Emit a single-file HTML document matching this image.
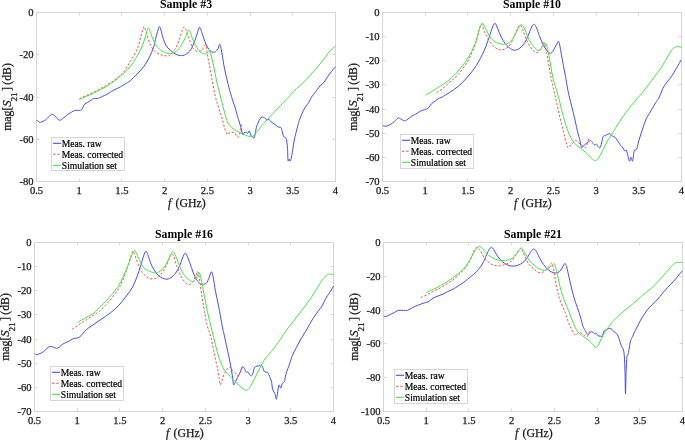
<!DOCTYPE html>
<html><head><meta charset="utf-8"><style>html,body{margin:0;padding:0;background:#fff;}svg{display:block;will-change:transform}</style></head>
<body><svg width="685" height="440" viewBox="0 0 685 440">
<rect width="685" height="440" fill="#fff"/>
<g stroke="#d6d6d6" stroke-width="1" fill="none"><line x1="36.5" y1="181.5" x2="36.5" y2="178.5" /><line x1="36.5" y1="12.5" x2="36.5" y2="15.5" /><line x1="79.5" y1="181.5" x2="79.5" y2="178.5" /><line x1="79.5" y1="12.5" x2="79.5" y2="15.5" /><line x1="121.5" y1="181.5" x2="121.5" y2="178.5" /><line x1="121.5" y1="12.5" x2="121.5" y2="15.5" /><line x1="164.5" y1="181.5" x2="164.5" y2="178.5" /><line x1="164.5" y1="12.5" x2="164.5" y2="15.5" /><line x1="207.5" y1="181.5" x2="207.5" y2="178.5" /><line x1="207.5" y1="12.5" x2="207.5" y2="15.5" /><line x1="250.5" y1="181.5" x2="250.5" y2="178.5" /><line x1="250.5" y1="12.5" x2="250.5" y2="15.5" /><line x1="292.5" y1="181.5" x2="292.5" y2="178.5" /><line x1="292.5" y1="12.5" x2="292.5" y2="15.5" /><line x1="335.5" y1="181.5" x2="335.5" y2="178.5" /><line x1="335.5" y1="12.5" x2="335.5" y2="15.5" /><line x1="36.5" y1="12.5" x2="39.5" y2="12.5" /><line x1="335.5" y1="12.5" x2="332.5" y2="12.5" /><line x1="36.5" y1="54.5" x2="39.5" y2="54.5" /><line x1="335.5" y1="54.5" x2="332.5" y2="54.5" /><line x1="36.5" y1="97.5" x2="39.5" y2="97.5" /><line x1="335.5" y1="97.5" x2="332.5" y2="97.5" /><line x1="36.5" y1="139.5" x2="39.5" y2="139.5" /><line x1="335.5" y1="139.5" x2="332.5" y2="139.5" /><line x1="36.5" y1="181.5" x2="39.5" y2="181.5" /><line x1="335.5" y1="181.5" x2="332.5" y2="181.5" /><rect x="36.5" y="12.5" width="299.0" height="169.0" fill="none"/></g>
<g font-family='"Liberation Serif", serif' font-size="10.6" fill="#1a1a1a" stroke="#1a1a1a" stroke-width="0.25"><text x="36.5" y="194.0" text-anchor="middle">0.5</text><text x="79.2" y="194.0" text-anchor="middle">1</text><text x="121.9" y="194.0" text-anchor="middle">1.5</text><text x="164.6" y="194.0" text-anchor="middle">2</text><text x="207.4" y="194.0" text-anchor="middle">2.5</text><text x="250.1" y="194.0" text-anchor="middle">3</text><text x="292.8" y="194.0" text-anchor="middle">3.5</text><text x="335.5" y="194.0" text-anchor="middle">4</text><text x="33.5" y="16.0" text-anchor="end">0</text><text x="33.5" y="58.2" text-anchor="end">-20</text><text x="33.5" y="100.5" text-anchor="end">-40</text><text x="33.5" y="142.8" text-anchor="end">-60</text><text x="33.5" y="185.0" text-anchor="end">-80</text></g>
<text y="206.8" font-family='"Liberation Serif", serif' font-size="11.8" fill="#1a1a1a" stroke="#1a1a1a" stroke-width="0.25"><tspan x="168.0" font-style="italic">f</tspan><tspan x="175.5">(GHz)</tspan></text>
<text transform="translate(11.1,130.85) rotate(-90)" font-family='"Liberation Serif", serif' font-size="11.8" fill="#1a1a1a" stroke="#1a1a1a" stroke-width="0.25"><tspan x="0" y="0">mag[</tspan><tspan x="24.0" y="0" font-style="italic" font-size="12.8">S</tspan><tspan x="29.3" y="5.8" font-size="9.1">21</tspan><tspan x="39.9" y="0">]</tspan><tspan x="46.07" y="0">(dB)</tspan></text>
<text x="186.0" y="8.2" text-anchor="middle" font-family='"Liberation Serif", serif' font-weight="bold" font-size="11.8" fill="#000">Sample #3</text>
<g stroke="#d6d6d6" stroke-width="1" fill="none"><line x1="382.5" y1="181.5" x2="382.5" y2="178.5" /><line x1="382.5" y1="12.5" x2="382.5" y2="15.5" /><line x1="425.5" y1="181.5" x2="425.5" y2="178.5" /><line x1="425.5" y1="12.5" x2="425.5" y2="15.5" /><line x1="467.5" y1="181.5" x2="467.5" y2="178.5" /><line x1="467.5" y1="12.5" x2="467.5" y2="15.5" /><line x1="510.5" y1="181.5" x2="510.5" y2="178.5" /><line x1="510.5" y1="12.5" x2="510.5" y2="15.5" /><line x1="553.5" y1="181.5" x2="553.5" y2="178.5" /><line x1="553.5" y1="12.5" x2="553.5" y2="15.5" /><line x1="596.5" y1="181.5" x2="596.5" y2="178.5" /><line x1="596.5" y1="12.5" x2="596.5" y2="15.5" /><line x1="638.5" y1="181.5" x2="638.5" y2="178.5" /><line x1="638.5" y1="12.5" x2="638.5" y2="15.5" /><line x1="681.5" y1="181.5" x2="681.5" y2="178.5" /><line x1="681.5" y1="12.5" x2="681.5" y2="15.5" /><line x1="382.5" y1="12.5" x2="385.5" y2="12.5" /><line x1="681.5" y1="12.5" x2="678.5" y2="12.5" /><line x1="382.5" y1="36.5" x2="385.5" y2="36.5" /><line x1="681.5" y1="36.5" x2="678.5" y2="36.5" /><line x1="382.5" y1="60.5" x2="385.5" y2="60.5" /><line x1="681.5" y1="60.5" x2="678.5" y2="60.5" /><line x1="382.5" y1="84.5" x2="385.5" y2="84.5" /><line x1="681.5" y1="84.5" x2="678.5" y2="84.5" /><line x1="382.5" y1="109.5" x2="385.5" y2="109.5" /><line x1="681.5" y1="109.5" x2="678.5" y2="109.5" /><line x1="382.5" y1="133.5" x2="385.5" y2="133.5" /><line x1="681.5" y1="133.5" x2="678.5" y2="133.5" /><line x1="382.5" y1="157.5" x2="385.5" y2="157.5" /><line x1="681.5" y1="157.5" x2="678.5" y2="157.5" /><line x1="382.5" y1="181.5" x2="385.5" y2="181.5" /><line x1="681.5" y1="181.5" x2="678.5" y2="181.5" /><rect x="382.5" y="12.5" width="299.0" height="169.0" fill="none"/></g>
<g font-family='"Liberation Serif", serif' font-size="10.6" fill="#1a1a1a" stroke="#1a1a1a" stroke-width="0.25"><text x="382.5" y="194.0" text-anchor="middle">0.5</text><text x="425.2" y="194.0" text-anchor="middle">1</text><text x="467.9" y="194.0" text-anchor="middle">1.5</text><text x="510.6" y="194.0" text-anchor="middle">2</text><text x="553.4" y="194.0" text-anchor="middle">2.5</text><text x="596.1" y="194.0" text-anchor="middle">3</text><text x="638.8" y="194.0" text-anchor="middle">3.5</text><text x="681.5" y="194.0" text-anchor="middle">4</text><text x="379.5" y="16.0" text-anchor="end">0</text><text x="379.5" y="40.1" text-anchor="end">-10</text><text x="379.5" y="64.3" text-anchor="end">-20</text><text x="379.5" y="88.4" text-anchor="end">-30</text><text x="379.5" y="112.6" text-anchor="end">-40</text><text x="379.5" y="136.7" text-anchor="end">-50</text><text x="379.5" y="160.9" text-anchor="end">-60</text><text x="379.5" y="185.0" text-anchor="end">-70</text></g>
<text y="206.8" font-family='"Liberation Serif", serif' font-size="11.8" fill="#1a1a1a" stroke="#1a1a1a" stroke-width="0.25"><tspan x="514.0" font-style="italic">f</tspan><tspan x="521.5">(GHz)</tspan></text>
<text transform="translate(357.1,130.85) rotate(-90)" font-family='"Liberation Serif", serif' font-size="11.8" fill="#1a1a1a" stroke="#1a1a1a" stroke-width="0.25"><tspan x="0" y="0">mag[</tspan><tspan x="24.0" y="0" font-style="italic" font-size="12.8">S</tspan><tspan x="29.3" y="5.8" font-size="9.1">21</tspan><tspan x="39.9" y="0">]</tspan><tspan x="46.07" y="0">(dB)</tspan></text>
<text x="532.0" y="8.2" text-anchor="middle" font-family='"Liberation Serif", serif' font-weight="bold" font-size="11.8" fill="#000">Sample #10</text>
<g stroke="#d6d6d6" stroke-width="1" fill="none"><line x1="34.5" y1="411.5" x2="34.5" y2="408.5" /><line x1="34.5" y1="242.5" x2="34.5" y2="245.5" /><line x1="77.5" y1="411.5" x2="77.5" y2="408.5" /><line x1="77.5" y1="242.5" x2="77.5" y2="245.5" /><line x1="119.5" y1="411.5" x2="119.5" y2="408.5" /><line x1="119.5" y1="242.5" x2="119.5" y2="245.5" /><line x1="162.5" y1="411.5" x2="162.5" y2="408.5" /><line x1="162.5" y1="242.5" x2="162.5" y2="245.5" /><line x1="205.5" y1="411.5" x2="205.5" y2="408.5" /><line x1="205.5" y1="242.5" x2="205.5" y2="245.5" /><line x1="248.5" y1="411.5" x2="248.5" y2="408.5" /><line x1="248.5" y1="242.5" x2="248.5" y2="245.5" /><line x1="290.5" y1="411.5" x2="290.5" y2="408.5" /><line x1="290.5" y1="242.5" x2="290.5" y2="245.5" /><line x1="333.5" y1="411.5" x2="333.5" y2="408.5" /><line x1="333.5" y1="242.5" x2="333.5" y2="245.5" /><line x1="34.5" y1="242.5" x2="37.5" y2="242.5" /><line x1="333.5" y1="242.5" x2="330.5" y2="242.5" /><line x1="34.5" y1="266.5" x2="37.5" y2="266.5" /><line x1="333.5" y1="266.5" x2="330.5" y2="266.5" /><line x1="34.5" y1="290.5" x2="37.5" y2="290.5" /><line x1="333.5" y1="290.5" x2="330.5" y2="290.5" /><line x1="34.5" y1="314.5" x2="37.5" y2="314.5" /><line x1="333.5" y1="314.5" x2="330.5" y2="314.5" /><line x1="34.5" y1="339.5" x2="37.5" y2="339.5" /><line x1="333.5" y1="339.5" x2="330.5" y2="339.5" /><line x1="34.5" y1="363.5" x2="37.5" y2="363.5" /><line x1="333.5" y1="363.5" x2="330.5" y2="363.5" /><line x1="34.5" y1="387.5" x2="37.5" y2="387.5" /><line x1="333.5" y1="387.5" x2="330.5" y2="387.5" /><line x1="34.5" y1="411.5" x2="37.5" y2="411.5" /><line x1="333.5" y1="411.5" x2="330.5" y2="411.5" /><rect x="34.5" y="242.5" width="299.0" height="169.0" fill="none"/></g>
<g font-family='"Liberation Serif", serif' font-size="10.6" fill="#1a1a1a" stroke="#1a1a1a" stroke-width="0.25"><text x="34.5" y="424.0" text-anchor="middle">0.5</text><text x="77.2" y="424.0" text-anchor="middle">1</text><text x="119.9" y="424.0" text-anchor="middle">1.5</text><text x="162.6" y="424.0" text-anchor="middle">2</text><text x="205.4" y="424.0" text-anchor="middle">2.5</text><text x="248.1" y="424.0" text-anchor="middle">3</text><text x="290.8" y="424.0" text-anchor="middle">3.5</text><text x="333.5" y="424.0" text-anchor="middle">4</text><text x="31.5" y="246.0" text-anchor="end">0</text><text x="31.5" y="270.1" text-anchor="end">-10</text><text x="31.5" y="294.3" text-anchor="end">-20</text><text x="31.5" y="318.4" text-anchor="end">-30</text><text x="31.5" y="342.6" text-anchor="end">-40</text><text x="31.5" y="366.7" text-anchor="end">-50</text><text x="31.5" y="390.9" text-anchor="end">-60</text><text x="31.5" y="415.0" text-anchor="end">-70</text></g>
<text y="436.8" font-family='"Liberation Serif", serif' font-size="11.8" fill="#1a1a1a" stroke="#1a1a1a" stroke-width="0.25"><tspan x="166.0" font-style="italic">f</tspan><tspan x="173.5">(GHz)</tspan></text>
<text transform="translate(9.1,360.85) rotate(-90)" font-family='"Liberation Serif", serif' font-size="11.8" fill="#1a1a1a" stroke="#1a1a1a" stroke-width="0.25"><tspan x="0" y="0">mag[</tspan><tspan x="24.0" y="0" font-style="italic" font-size="12.8">S</tspan><tspan x="29.3" y="5.8" font-size="9.1">21</tspan><tspan x="39.9" y="0">]</tspan><tspan x="46.07" y="0">(dB)</tspan></text>
<text x="184.0" y="238.2" text-anchor="middle" font-family='"Liberation Serif", serif' font-weight="bold" font-size="11.8" fill="#000">Sample #16</text>
<g stroke="#d6d6d6" stroke-width="1" fill="none"><line x1="383.5" y1="411.5" x2="383.5" y2="408.5" /><line x1="383.5" y1="242.5" x2="383.5" y2="245.5" /><line x1="426.5" y1="411.5" x2="426.5" y2="408.5" /><line x1="426.5" y1="242.5" x2="426.5" y2="245.5" /><line x1="468.5" y1="411.5" x2="468.5" y2="408.5" /><line x1="468.5" y1="242.5" x2="468.5" y2="245.5" /><line x1="511.5" y1="411.5" x2="511.5" y2="408.5" /><line x1="511.5" y1="242.5" x2="511.5" y2="245.5" /><line x1="554.5" y1="411.5" x2="554.5" y2="408.5" /><line x1="554.5" y1="242.5" x2="554.5" y2="245.5" /><line x1="597.5" y1="411.5" x2="597.5" y2="408.5" /><line x1="597.5" y1="242.5" x2="597.5" y2="245.5" /><line x1="639.5" y1="411.5" x2="639.5" y2="408.5" /><line x1="639.5" y1="242.5" x2="639.5" y2="245.5" /><line x1="682.5" y1="411.5" x2="682.5" y2="408.5" /><line x1="682.5" y1="242.5" x2="682.5" y2="245.5" /><line x1="383.5" y1="242.5" x2="386.5" y2="242.5" /><line x1="682.5" y1="242.5" x2="679.5" y2="242.5" /><line x1="383.5" y1="276.5" x2="386.5" y2="276.5" /><line x1="682.5" y1="276.5" x2="679.5" y2="276.5" /><line x1="383.5" y1="310.5" x2="386.5" y2="310.5" /><line x1="682.5" y1="310.5" x2="679.5" y2="310.5" /><line x1="383.5" y1="343.5" x2="386.5" y2="343.5" /><line x1="682.5" y1="343.5" x2="679.5" y2="343.5" /><line x1="383.5" y1="377.5" x2="386.5" y2="377.5" /><line x1="682.5" y1="377.5" x2="679.5" y2="377.5" /><line x1="383.5" y1="411.5" x2="386.5" y2="411.5" /><line x1="682.5" y1="411.5" x2="679.5" y2="411.5" /><rect x="383.5" y="242.5" width="299.0" height="169.0" fill="none"/></g>
<g font-family='"Liberation Serif", serif' font-size="10.6" fill="#1a1a1a" stroke="#1a1a1a" stroke-width="0.25"><text x="383.5" y="424.0" text-anchor="middle">0.5</text><text x="426.2" y="424.0" text-anchor="middle">1</text><text x="468.9" y="424.0" text-anchor="middle">1.5</text><text x="511.6" y="424.0" text-anchor="middle">2</text><text x="554.4" y="424.0" text-anchor="middle">2.5</text><text x="597.1" y="424.0" text-anchor="middle">3</text><text x="639.8" y="424.0" text-anchor="middle">3.5</text><text x="682.5" y="424.0" text-anchor="middle">4</text><text x="380.5" y="246.0" text-anchor="end">0</text><text x="380.5" y="279.8" text-anchor="end">-20</text><text x="380.5" y="313.6" text-anchor="end">-40</text><text x="380.5" y="347.4" text-anchor="end">-60</text><text x="380.5" y="381.2" text-anchor="end">-80</text><text x="380.5" y="415.0" text-anchor="end">-100</text></g>
<text y="436.8" font-family='"Liberation Serif", serif' font-size="11.8" fill="#1a1a1a" stroke="#1a1a1a" stroke-width="0.25"><tspan x="515.0" font-style="italic">f</tspan><tspan x="522.5">(GHz)</tspan></text>
<text transform="translate(358.1,360.85) rotate(-90)" font-family='"Liberation Serif", serif' font-size="11.8" fill="#1a1a1a" stroke="#1a1a1a" stroke-width="0.25"><tspan x="0" y="0">mag[</tspan><tspan x="24.0" y="0" font-style="italic" font-size="12.8">S</tspan><tspan x="29.3" y="5.8" font-size="9.1">21</tspan><tspan x="39.9" y="0">]</tspan><tspan x="46.07" y="0">(dB)</tspan></text>
<text x="533.0" y="238.2" text-anchor="middle" font-family='"Liberation Serif", serif' font-weight="bold" font-size="11.8" fill="#000">Sample #21</text>
<path d="M36.40,120.50C36.60,120.53 37.07,120.40 37.60,120.70C38.13,121.00 38.93,122.10 39.60,122.30C40.27,122.50 40.80,122.17 41.60,121.90C42.40,121.63 43.60,121.17 44.40,120.70C45.20,120.23 45.58,119.83 46.40,119.10C47.22,118.37 48.42,117.10 49.30,116.30C50.18,115.50 50.83,114.43 51.70,114.30C52.57,114.17 53.63,114.83 54.50,115.50C55.37,116.17 56.03,117.50 56.90,118.30C57.77,119.10 58.77,120.23 59.70,120.30C60.63,120.37 61.63,119.28 62.50,118.70C63.37,118.12 64.03,117.52 64.90,116.80C65.77,116.08 66.63,115.15 67.70,114.40C68.77,113.65 70.15,112.97 71.30,112.30C72.45,111.63 73.52,110.72 74.60,110.40C75.68,110.08 76.67,110.48 77.80,110.40C78.93,110.32 80.47,110.60 81.40,109.90C82.33,109.20 82.80,107.23 83.40,106.20C84.00,105.17 84.33,104.30 85.00,103.70C85.67,103.10 86.40,103.18 87.40,102.60C88.40,102.02 90.03,100.83 91.00,100.20C91.97,99.57 91.93,99.13 93.20,98.80C94.47,98.47 97.08,98.60 98.60,98.20C100.12,97.80 100.93,97.02 102.30,96.40C103.67,95.78 105.28,95.33 106.80,94.50C108.32,93.67 109.88,92.30 111.40,91.40C112.92,90.50 114.38,89.87 115.90,89.10C117.42,88.33 118.98,87.63 120.50,86.80C122.02,85.97 123.38,85.12 125.00,84.10C126.62,83.08 128.15,82.42 130.20,80.70C132.25,78.98 134.98,76.23 137.30,73.80C139.62,71.37 142.12,68.80 144.10,66.10C146.08,63.40 147.63,60.72 149.20,57.60C150.77,54.48 152.37,50.80 153.50,47.40C154.63,44.00 155.25,40.10 156.00,37.20C156.75,34.30 157.43,31.77 158.00,30.00C158.57,28.23 158.90,26.60 159.40,26.60C159.90,26.60 160.43,28.23 161.00,30.00C161.57,31.77 161.93,34.58 162.80,37.20C163.67,39.82 164.98,43.58 166.20,45.70C167.42,47.82 168.60,48.53 170.10,49.90C171.60,51.27 173.50,52.95 175.20,53.90C176.90,54.85 178.58,55.50 180.30,55.60C182.02,55.70 183.78,55.45 185.50,54.50C187.22,53.55 189.05,52.22 190.60,49.90C192.15,47.58 193.67,43.43 194.80,40.60C195.93,37.77 196.60,35.12 197.40,32.90C198.20,30.68 198.80,27.17 199.60,27.30C200.40,27.43 201.15,30.92 202.20,33.70C203.25,36.48 204.57,41.15 205.90,44.00C207.23,46.85 208.78,49.43 210.20,50.80C211.62,52.17 213.13,52.48 214.40,52.20C215.67,51.92 216.88,50.42 217.80,49.10C218.72,47.78 219.18,43.45 219.90,44.30C220.62,45.15 221.30,50.00 222.10,54.20C222.90,58.40 223.57,63.98 224.70,69.50C225.83,75.02 227.63,82.35 228.90,87.30C230.17,92.25 231.17,95.52 232.30,99.20C233.43,102.88 234.83,106.52 235.70,109.40C236.57,112.28 236.90,114.42 237.50,116.50C238.10,118.58 238.73,120.07 239.30,121.90C239.87,123.73 240.43,125.77 240.90,127.50C241.37,129.23 241.77,131.05 242.10,132.30C242.43,133.55 242.57,134.93 242.90,135.00C243.23,135.07 243.57,133.15 244.10,132.70C244.63,132.25 245.50,132.18 246.10,132.30C246.70,132.42 247.18,133.65 247.70,133.40C248.22,133.15 248.75,130.73 249.20,130.80C249.65,130.87 250.07,132.90 250.40,133.80C250.73,134.70 250.87,135.80 251.20,136.20C251.53,136.60 251.93,135.87 252.40,136.20C252.87,136.53 253.53,138.60 254.00,138.20C254.47,137.80 254.87,135.32 255.20,133.80C255.53,132.28 255.73,130.42 256.00,129.10C256.27,127.78 256.47,126.90 256.80,125.90C257.13,124.90 257.47,124.30 258.00,123.10C258.53,121.90 259.27,119.68 260.00,118.70C260.73,117.72 261.62,117.33 262.40,117.20C263.18,117.07 263.92,117.45 264.70,117.90C265.48,118.35 266.37,119.63 267.10,119.90C267.83,120.17 268.43,119.17 269.10,119.50C269.77,119.83 270.22,121.15 271.10,121.90C271.98,122.65 273.22,123.13 274.40,124.00C275.58,124.87 277.12,126.52 278.20,127.10C279.28,127.68 280.22,126.72 280.90,127.50C281.58,128.28 281.85,130.28 282.30,131.80C282.75,133.32 283.15,135.68 283.60,136.60C284.05,137.52 284.53,136.85 285.00,137.30C285.47,137.75 285.98,137.48 286.40,139.30C286.82,141.12 287.23,144.67 287.50,148.20C287.77,151.73 287.73,158.68 288.00,160.50C288.27,162.32 288.73,158.98 289.10,159.10C289.47,159.22 289.78,161.65 290.20,161.20C290.62,160.75 291.15,158.57 291.60,156.40C292.05,154.23 292.45,150.93 292.90,148.20C293.35,145.47 293.80,142.50 294.30,140.00C294.80,137.50 295.28,135.70 295.90,133.20C296.52,130.70 297.43,127.17 298.00,125.00C298.57,122.83 298.62,122.13 299.30,120.20C299.98,118.27 301.15,115.52 302.10,113.40C303.05,111.28 303.89,109.32 305.00,107.50C306.11,105.68 307.71,104.17 308.75,102.50C309.79,100.83 310.46,98.83 311.25,97.50C312.04,96.17 312.62,95.65 313.50,94.50C314.38,93.35 315.32,92.17 316.50,90.60C317.68,89.03 319.35,86.47 320.60,85.10C321.85,83.73 322.87,83.77 324.00,82.40C325.13,81.03 326.15,78.72 327.40,76.90C328.65,75.08 330.15,73.20 331.50,71.50C332.85,69.80 334.83,67.50 335.50,66.70" fill="none" stroke="#4a4aee" stroke-width="1" stroke-linejoin="round"/>
<path d="M79.50,98.80C80.27,98.40 82.27,97.27 84.10,96.40C85.93,95.53 88.23,94.62 90.50,93.60C92.77,92.58 95.43,91.47 97.70,90.30C99.97,89.13 101.82,87.97 104.10,86.60C106.38,85.23 108.98,83.77 111.40,82.10C113.82,80.43 116.48,78.38 118.60,76.60C120.72,74.82 122.12,74.00 124.10,71.40C126.08,68.80 128.30,64.72 130.50,61.00C132.70,57.28 135.60,53.07 137.30,49.10C139.00,45.13 139.72,40.62 140.70,37.20C141.68,33.78 142.58,30.32 143.20,28.60C143.82,26.88 143.83,26.05 144.40,26.90C144.97,27.75 145.67,30.85 146.60,33.70C147.53,36.55 148.72,41.15 150.00,44.00C151.28,46.85 152.73,49.10 154.30,50.80C155.87,52.50 157.70,53.40 159.40,54.20C161.10,55.00 162.73,55.43 164.50,55.60C166.27,55.77 168.07,56.57 170.00,55.20C171.93,53.83 174.52,50.12 176.10,47.40C177.68,44.68 178.52,41.60 179.50,38.90C180.48,36.20 181.23,33.20 182.00,31.20C182.77,29.20 183.30,26.77 184.10,26.90C184.90,27.03 185.87,29.72 186.80,32.00C187.73,34.28 188.65,37.90 189.70,40.60C190.75,43.30 191.82,46.37 193.10,48.20C194.38,50.03 196.12,51.17 197.40,51.60C198.68,52.03 199.82,51.37 200.80,50.80C201.78,50.23 202.50,49.20 203.30,48.20C204.10,47.20 204.93,43.80 205.60,44.80C206.27,45.80 206.68,50.93 207.30,54.20C207.92,57.47 208.55,60.35 209.30,64.40C210.05,68.45 210.82,73.27 211.80,78.50C212.78,83.73 214.07,90.93 215.20,95.80C216.33,100.67 217.47,104.00 218.60,107.70C219.73,111.40 221.00,114.58 222.00,118.00C223.00,121.42 223.83,125.68 224.60,128.20C225.37,130.72 226.07,132.03 226.60,133.10C227.13,134.17 227.27,134.73 227.80,134.60C228.33,134.47 228.93,132.68 229.80,132.30C230.67,131.92 232.15,132.17 233.00,132.30C233.85,132.43 234.32,132.45 234.90,133.10C235.48,133.75 235.90,135.55 236.50,136.20C237.10,136.85 238.03,137.13 238.50,137.00C238.97,136.87 238.97,136.32 239.30,135.40C239.63,134.48 240.23,132.75 240.50,131.50C240.77,130.25 240.70,129.10 240.90,127.90C241.10,126.70 241.43,125.10 241.70,124.30C241.97,123.50 242.37,123.30 242.50,123.10" fill="none" stroke="#f05050" stroke-width="1" stroke-linejoin="round" stroke-dasharray="2.2,1.8"/>
<path d="M79.30,99.50C80.10,99.13 82.40,98.05 84.10,97.30C85.80,96.55 87.68,95.83 89.50,95.00C91.32,94.17 93.17,93.22 95.00,92.30C96.83,91.38 98.68,90.42 100.50,89.50C102.32,88.58 104.08,87.85 105.90,86.80C107.72,85.75 109.73,84.33 111.40,83.20C113.07,82.07 114.38,81.22 115.90,80.00C117.42,78.78 118.98,77.18 120.50,75.90C122.02,74.62 123.33,73.93 125.00,72.30C126.67,70.67 128.45,68.83 130.50,66.10C132.55,63.37 135.32,59.30 137.30,55.90C139.28,52.50 140.98,49.10 142.40,45.70C143.82,42.30 144.82,38.48 145.80,35.50C146.78,32.52 147.45,28.10 148.30,27.80C149.15,27.50 149.90,31.28 150.90,33.70C151.90,36.12 152.88,39.73 154.30,42.30C155.72,44.87 157.70,47.45 159.40,49.10C161.10,50.75 162.73,51.45 164.50,52.20C166.27,52.95 167.93,53.83 170.00,53.60C172.07,53.37 174.90,52.40 176.90,50.80C178.90,49.20 180.57,46.27 182.00,44.00C183.43,41.73 184.35,39.53 185.50,37.20C186.65,34.87 187.83,30.00 188.90,30.00C189.97,30.00 190.77,34.58 191.90,37.20C193.03,39.82 194.37,43.30 195.70,45.70C197.03,48.10 198.48,50.23 199.90,51.60C201.32,52.97 202.92,53.70 204.20,53.90C205.48,54.10 206.68,53.32 207.60,52.80C208.52,52.28 208.98,49.85 209.70,50.80C210.42,51.75 211.12,55.30 211.90,58.50C212.68,61.70 213.55,65.92 214.40,70.00C215.25,74.08 216.30,79.83 217.00,83.00C217.70,86.17 217.77,85.73 218.60,89.00C219.43,92.27 220.90,98.30 222.00,102.60C223.10,106.90 224.30,111.58 225.20,114.80C226.10,118.02 226.63,120.12 227.40,121.90C228.17,123.68 228.87,124.37 229.80,125.50C230.73,126.63 231.82,127.77 233.00,128.70C234.18,129.63 235.58,130.37 236.90,131.10C238.22,131.83 239.43,132.40 240.90,133.10C242.37,133.80 244.25,134.72 245.70,135.30C247.15,135.88 248.42,136.45 249.60,136.60C250.78,136.75 251.87,136.67 252.80,136.20C253.73,135.73 253.67,135.58 255.20,133.80C256.73,132.02 259.53,128.37 262.00,125.50C264.47,122.63 266.40,120.47 270.00,116.60C273.60,112.73 280.27,105.82 283.60,102.30C286.93,98.78 287.85,97.80 290.00,95.50C292.15,93.20 294.37,90.57 296.50,88.50C298.63,86.43 300.62,85.22 302.80,83.10C304.98,80.98 307.32,78.30 309.60,75.80C311.88,73.30 314.22,70.75 316.50,68.10C318.78,65.45 321.27,62.52 323.30,59.90C325.33,57.28 327.12,54.33 328.70,52.40C330.28,50.47 331.67,49.33 332.80,48.30C333.93,47.27 335.05,46.55 335.50,46.20" fill="none" stroke="#44e644" stroke-width="1" stroke-linejoin="round"/>
<path d="M382.80,125.70C383.35,125.78 384.87,126.38 386.10,126.20C387.33,126.02 388.83,125.37 390.20,124.60C391.57,123.83 392.98,122.70 394.30,121.60C395.62,120.50 396.97,118.42 398.10,118.00C399.23,117.58 400.03,118.63 401.10,119.10C402.17,119.57 403.37,120.80 404.50,120.80C405.63,120.80 406.77,119.83 407.90,119.10C409.03,118.37 410.05,117.20 411.30,116.40C412.55,115.60 413.80,115.22 415.40,114.30C417.00,113.38 419.42,111.65 420.90,110.90C422.38,110.15 423.05,110.30 424.30,109.80C425.55,109.30 427.15,108.97 428.40,107.90C429.65,106.83 430.67,104.53 431.80,103.40C432.93,102.27 434.07,101.93 435.20,101.10C436.33,100.27 437.47,99.07 438.60,98.40C439.73,97.73 440.25,98.05 442.00,97.10C443.75,96.15 446.40,94.48 449.10,92.70C451.80,90.92 455.17,88.97 458.20,86.40C461.23,83.83 464.27,80.78 467.30,77.30C470.33,73.82 473.68,69.75 476.40,65.50C479.12,61.25 481.63,56.05 483.60,51.80C485.57,47.55 486.83,43.78 488.20,40.00C489.57,36.22 490.68,31.88 491.80,29.10C492.92,26.32 493.92,23.38 494.90,23.30C495.88,23.22 496.67,26.35 497.70,28.60C498.73,30.85 499.85,34.30 501.10,36.80C502.35,39.30 503.83,41.78 505.20,43.60C506.57,45.42 507.82,46.60 509.30,47.70C510.78,48.80 512.50,50.02 514.10,50.20C515.70,50.38 517.42,49.67 518.90,48.80C520.38,47.93 521.75,46.53 523.00,45.00C524.25,43.47 525.27,41.87 526.40,39.60C527.53,37.33 528.85,33.68 529.80,31.40C530.75,29.12 531.35,27.08 532.10,25.90C532.85,24.72 533.55,23.95 534.30,24.30C535.05,24.65 535.77,26.13 536.60,28.00C537.43,29.87 538.28,32.90 539.30,35.50C540.32,38.10 541.55,41.22 542.70,43.60C543.85,45.98 545.02,48.18 546.20,49.80C547.38,51.42 548.75,52.97 549.80,53.30C550.85,53.63 551.60,52.83 552.50,51.80C553.40,50.77 554.40,48.57 555.20,47.10C556.00,45.63 556.77,43.98 557.30,43.00C557.83,42.02 558.00,40.87 558.40,41.20C558.80,41.53 559.20,42.77 559.70,45.00C560.20,47.23 560.78,51.18 561.40,54.60C562.02,58.02 562.72,61.87 563.40,65.50C564.08,69.13 564.82,72.65 565.50,76.40C566.18,80.15 566.90,84.75 567.50,88.00C568.10,91.25 568.38,92.77 569.10,95.90C569.82,99.03 570.90,103.17 571.80,106.80C572.70,110.43 573.58,113.75 574.50,117.70C575.42,121.65 576.47,127.02 577.30,130.50C578.13,133.98 578.83,135.88 579.50,138.60C580.17,141.32 580.77,145.43 581.30,146.80C581.83,148.17 582.00,147.25 582.70,146.80C583.40,146.35 584.58,144.85 585.50,144.10C586.42,143.35 587.38,142.90 588.20,142.30C589.02,141.70 589.65,140.42 590.40,140.50C591.15,140.58 592.02,142.05 592.70,142.80C593.38,143.55 593.88,144.78 594.50,145.00C595.12,145.22 595.78,143.80 596.40,144.10C597.02,144.40 597.60,146.20 598.20,146.80C598.80,147.40 599.43,148.33 600.00,147.70C600.57,147.07 601.07,144.85 601.60,143.00C602.13,141.15 602.40,137.93 603.20,136.60C604.00,135.27 605.35,135.48 606.40,135.00C607.45,134.52 608.58,133.57 609.50,133.70C610.42,133.83 610.97,135.18 611.90,135.80C612.83,136.42 614.17,136.60 615.10,137.40C616.03,138.20 616.70,139.42 617.50,140.60C618.30,141.78 619.10,143.45 619.90,144.50C620.70,145.55 621.50,145.83 622.30,146.90C623.10,147.97 624.05,150.37 624.70,150.90C625.35,151.43 625.68,149.43 626.20,150.10C626.72,150.77 627.27,153.05 627.80,154.90C628.33,156.75 628.87,160.80 629.40,161.20C629.93,161.60 630.47,157.30 631.00,157.30C631.53,157.30 632.07,162.27 632.60,161.20C633.13,160.13 633.53,152.88 634.20,150.90C634.87,148.92 635.93,150.62 636.60,149.30C637.27,147.98 637.53,145.38 638.20,143.00C638.87,140.62 639.80,137.53 640.60,135.00C641.40,132.47 642.08,130.45 643.00,127.80C643.92,125.15 645.05,121.48 646.10,119.10C647.15,116.72 648.23,115.32 649.30,113.50C650.37,111.68 651.43,110.03 652.50,108.20C653.57,106.37 654.65,104.17 655.70,102.50C656.75,100.83 657.62,100.52 658.80,98.20C659.98,95.88 661.62,91.05 662.80,88.60C663.98,86.15 664.70,85.20 665.90,83.50C667.10,81.80 668.63,80.27 670.00,78.40C671.37,76.53 672.73,74.52 674.10,72.30C675.47,70.08 677.02,67.15 678.20,65.10C679.38,63.05 680.70,60.85 681.20,60.00" fill="none" stroke="#4a4aee" stroke-width="1" stroke-linejoin="round"/>
<path d="M436.60,92.50C437.50,91.93 439.92,90.73 442.00,89.10C444.08,87.47 446.40,85.13 449.10,82.70C451.80,80.27 455.17,77.98 458.20,74.50C461.23,71.02 464.88,65.73 467.30,61.80C469.72,57.87 471.18,54.38 472.70,50.90C474.22,47.42 475.33,44.38 476.40,40.90C477.47,37.42 478.25,32.82 479.10,30.00C479.95,27.18 480.60,23.70 481.50,24.00C482.40,24.30 483.38,29.28 484.50,31.80C485.62,34.32 486.83,36.82 488.20,39.10C489.57,41.38 491.12,43.83 492.70,45.50C494.28,47.17 496.18,48.38 497.70,49.10C499.22,49.82 500.43,49.92 501.80,49.80C503.17,49.68 504.53,49.20 505.90,48.40C507.27,47.60 508.75,46.70 510.00,45.00C511.25,43.30 512.27,40.70 513.40,38.20C514.53,35.70 515.77,32.17 516.80,30.00C517.83,27.83 518.68,25.53 519.60,25.20C520.52,24.87 521.52,26.52 522.30,28.00C523.08,29.48 523.40,31.72 524.30,34.10C525.20,36.48 526.45,39.80 527.70,42.30C528.95,44.80 530.43,47.40 531.80,49.10C533.17,50.80 534.75,52.05 535.90,52.50C537.05,52.95 537.67,52.82 538.70,51.80C539.73,50.78 541.20,47.98 542.10,46.40C543.00,44.82 543.42,41.62 544.10,42.30C544.78,42.98 545.67,48.22 546.20,50.50C546.73,52.78 546.82,53.28 547.30,56.00C547.78,58.72 548.47,63.18 549.10,66.80C549.73,70.42 550.40,74.17 551.10,77.70C551.80,81.23 552.42,84.05 553.30,88.00C554.18,91.95 555.28,96.45 556.40,101.40C557.52,106.35 558.80,112.55 560.00,117.70C561.20,122.85 562.53,128.05 563.60,132.30C564.67,136.55 565.63,140.63 566.40,143.20C567.17,145.77 567.30,147.55 568.20,147.70C569.10,147.85 570.58,145.30 571.80,144.10C573.02,142.90 574.28,140.65 575.50,140.50C576.72,140.35 577.90,142.30 579.10,143.20C580.30,144.10 581.63,145.15 582.70,145.90C583.77,146.65 584.73,148.15 585.50,147.70C586.27,147.25 586.70,144.87 587.30,143.20C587.90,141.53 588.80,138.62 589.10,137.70" fill="none" stroke="#f05050" stroke-width="1" stroke-linejoin="round" stroke-dasharray="2.2,1.8"/>
<path d="M425.40,95.20C426.35,94.63 429.23,92.93 431.10,91.80C432.97,90.67 434.78,89.53 436.60,88.40C438.42,87.27 439.92,86.40 442.00,85.00C444.08,83.60 446.40,82.35 449.10,80.00C451.80,77.65 455.17,74.38 458.20,70.90C461.23,67.42 464.88,62.73 467.30,59.10C469.72,55.47 471.18,52.28 472.70,49.10C474.22,45.92 475.33,43.18 476.40,40.00C477.47,36.82 478.13,32.78 479.10,30.00C480.07,27.22 481.13,23.60 482.20,23.30C483.27,23.00 484.35,26.17 485.50,28.20C486.65,30.23 487.75,33.38 489.10,35.50C490.45,37.62 491.93,39.55 493.60,40.90C495.27,42.25 497.28,43.03 499.10,43.60C500.92,44.17 502.92,44.40 504.50,44.30C506.08,44.20 507.23,43.90 508.60,43.00C509.97,42.10 511.45,40.62 512.70,38.90C513.95,37.18 515.07,34.63 516.10,32.70C517.13,30.77 517.98,28.67 518.90,27.30C519.82,25.93 520.70,24.38 521.60,24.50C522.50,24.62 523.28,25.95 524.30,28.00C525.32,30.05 526.45,34.08 527.70,36.80C528.95,39.52 530.43,42.25 531.80,44.30C533.17,46.35 534.65,48.07 535.90,49.10C537.15,50.13 538.17,50.95 539.30,50.50C540.43,50.05 541.67,47.65 542.70,46.40C543.73,45.15 544.68,42.55 545.50,43.00C546.32,43.45 546.90,46.27 547.60,49.10C548.30,51.93 549.00,56.13 549.70,60.00C550.40,63.87 551.10,68.67 551.80,72.30C552.50,75.93 553.15,78.93 553.90,81.80C554.65,84.67 555.43,86.55 556.30,89.50C557.17,92.45 558.03,95.40 559.10,99.50C560.17,103.60 561.48,109.55 562.70,114.10C563.92,118.65 565.18,123.17 566.40,126.80C567.62,130.43 568.65,133.17 570.00,135.90C571.35,138.63 572.83,141.23 574.50,143.20C576.17,145.17 578.17,146.18 580.00,147.70C581.83,149.22 583.83,150.78 585.50,152.30C587.17,153.82 588.50,155.43 590.00,156.80C591.50,158.17 593.28,160.05 594.50,160.50C595.72,160.95 596.23,160.57 597.30,159.50C598.37,158.43 599.70,156.22 600.90,154.10C602.10,151.98 603.28,149.23 604.50,146.80C605.72,144.37 606.83,141.87 608.20,139.50C609.57,137.13 610.88,135.47 612.70,132.60C614.52,129.73 616.72,125.88 619.10,122.30C621.48,118.72 624.22,114.82 627.00,111.10C629.78,107.38 633.40,102.90 635.80,100.00C638.20,97.10 638.77,96.95 641.40,93.70C644.03,90.45 648.37,84.75 651.60,80.50C654.83,76.25 658.25,71.95 660.80,68.20C663.35,64.45 665.20,60.90 666.90,58.00C668.60,55.10 669.63,52.62 671.00,50.80C672.37,48.98 673.90,47.78 675.10,47.10C676.30,46.42 677.18,46.67 678.20,46.70C679.22,46.73 680.70,47.20 681.20,47.30" fill="none" stroke="#44e644" stroke-width="1" stroke-linejoin="round"/>
<path d="M34.80,353.90C35.12,354.02 35.82,354.67 36.70,354.60C37.58,354.53 38.97,354.00 40.10,353.50C41.23,353.00 42.35,352.45 43.50,351.60C44.65,350.75 45.90,349.27 47.00,348.40C48.10,347.53 49.08,346.62 50.10,346.40C51.12,346.18 52.03,346.77 53.10,347.10C54.17,347.43 55.48,348.40 56.50,348.40C57.52,348.40 58.07,347.88 59.20,347.10C60.33,346.32 61.82,344.62 63.30,343.70C64.78,342.78 66.38,342.47 68.10,341.60C69.82,340.73 72.00,339.12 73.60,338.50C75.20,337.88 76.45,338.37 77.70,337.90C78.95,337.43 79.97,336.78 81.10,335.70C82.23,334.62 83.25,332.68 84.50,331.40C85.75,330.12 87.05,329.18 88.60,328.00C90.15,326.82 91.75,325.72 93.80,324.30C95.85,322.88 98.20,321.35 100.90,319.50C103.60,317.65 106.97,315.62 110.00,313.20C113.03,310.78 116.37,307.88 119.10,305.00C121.83,302.12 124.13,298.93 126.40,295.90C128.67,292.87 130.88,290.13 132.70,286.80C134.52,283.47 135.93,279.53 137.30,275.90C138.67,272.27 139.85,268.33 140.90,265.00C141.95,261.67 142.78,258.20 143.60,255.90C144.42,253.60 145.08,251.38 145.80,251.20C146.52,251.02 147.12,252.88 147.90,254.80C148.68,256.72 149.50,260.23 150.50,262.70C151.50,265.17 152.55,267.43 153.90,269.60C155.25,271.77 156.67,274.12 158.60,275.70C160.53,277.28 163.45,278.77 165.50,279.10C167.55,279.43 169.20,278.72 170.90,277.70C172.60,276.68 174.22,275.03 175.70,273.00C177.18,270.97 178.67,268.00 179.80,265.50C180.93,263.00 181.60,260.05 182.50,258.00C183.40,255.95 184.28,253.20 185.20,253.20C186.12,253.20 186.97,255.62 188.00,258.00C189.03,260.38 190.27,264.43 191.40,267.50C192.53,270.57 193.67,274.02 194.80,276.40C195.93,278.78 197.18,280.50 198.20,281.80C199.22,283.10 200.00,283.82 200.90,284.20C201.80,284.58 202.68,284.27 203.60,284.10C204.52,283.93 205.48,284.27 206.40,283.20C207.32,282.13 208.28,279.62 209.10,277.70C209.92,275.78 210.63,271.85 211.30,271.70C211.97,271.55 212.40,273.52 213.10,276.80C213.80,280.08 214.65,286.85 215.50,291.40C216.35,295.95 217.30,299.57 218.20,304.10C219.10,308.63 220.13,314.45 220.90,318.60C221.67,322.75 222.27,326.35 222.80,329.00C223.33,331.65 223.48,331.72 224.10,334.50C224.72,337.28 225.70,341.98 226.50,345.70C227.30,349.42 228.18,353.35 228.90,356.80C229.62,360.25 230.22,363.22 230.80,366.40C231.38,369.58 231.93,372.85 232.40,375.90C232.87,378.95 233.13,383.63 233.60,384.70C234.07,385.77 234.53,383.50 235.20,382.30C235.87,381.10 236.80,379.10 237.60,377.50C238.40,375.90 239.20,374.50 240.00,372.70C240.80,370.90 241.65,367.37 242.40,366.70C243.15,366.03 243.90,367.83 244.50,368.70C245.10,369.57 245.48,371.37 246.00,371.90C246.52,372.43 247.02,371.50 247.60,371.90C248.18,372.30 248.92,373.63 249.50,374.30C250.08,374.97 250.57,375.95 251.10,375.90C251.63,375.85 252.17,375.32 252.70,374.00C253.23,372.68 253.77,369.27 254.30,368.00C254.83,366.73 255.23,366.73 255.90,366.40C256.57,366.07 257.37,366.17 258.30,366.00C259.23,365.83 260.72,365.03 261.50,365.40C262.28,365.77 262.50,367.15 263.00,368.20C263.50,369.25 263.72,370.97 264.50,371.70C265.28,372.43 266.77,371.60 267.70,372.60C268.63,373.60 269.43,376.05 270.10,377.70C270.77,379.35 271.30,380.63 271.70,382.50C272.10,384.37 271.97,387.05 272.50,388.90C273.03,390.75 274.23,391.88 274.90,393.60C275.57,395.32 275.97,399.98 276.50,399.20C277.03,398.42 277.65,391.28 278.10,388.90C278.55,386.52 278.75,385.03 279.20,384.90C279.65,384.77 280.27,388.37 280.80,388.10C281.33,387.83 281.80,384.37 282.40,383.30C283.00,382.23 283.88,382.90 284.40,381.70C284.92,380.50 285.10,377.82 285.50,376.10C285.90,374.38 286.18,373.25 286.80,371.40C287.42,369.55 288.27,367.65 289.20,365.00C290.13,362.35 291.20,358.42 292.40,355.50C293.60,352.58 294.95,350.30 296.40,347.50C297.85,344.70 299.58,341.37 301.10,338.70C302.62,336.03 304.10,333.87 305.50,331.50C306.90,329.13 308.22,326.72 309.50,324.50C310.78,322.28 311.83,320.32 313.20,318.20C314.57,316.08 316.18,313.92 317.70,311.80C319.22,309.68 320.93,307.77 322.30,305.50C323.67,303.23 324.70,300.33 325.90,298.20C327.10,296.07 328.22,294.73 329.50,292.70C330.78,290.67 332.92,287.12 333.60,286.00" fill="none" stroke="#4a4aee" stroke-width="1" stroke-linejoin="round"/>
<path d="M72.20,329.30C73.12,328.68 75.88,326.85 77.70,325.60C79.52,324.35 81.28,323.00 83.10,321.80C84.92,320.60 86.78,319.57 88.60,318.40C90.42,317.23 92.25,315.97 94.00,314.80C95.75,313.63 96.73,313.48 99.10,311.40C101.47,309.32 105.17,305.78 108.20,302.30C111.23,298.82 114.88,294.13 117.30,290.50C119.72,286.87 121.03,284.30 122.70,280.50C124.37,276.70 125.93,271.80 127.30,267.70C128.67,263.60 129.90,258.62 130.90,255.90C131.90,253.18 132.38,250.80 133.30,251.40C134.22,252.00 135.28,256.63 136.40,259.50C137.52,262.37 138.65,266.02 140.00,268.60C141.35,271.18 142.98,273.37 144.50,275.00C146.02,276.63 147.53,277.77 149.10,278.40C150.67,279.03 152.32,279.13 153.90,278.80C155.48,278.47 157.02,277.72 158.60,276.40C160.18,275.08 162.03,272.95 163.40,270.90C164.77,268.85 165.77,266.37 166.80,264.10C167.83,261.83 168.87,259.00 169.60,257.30C170.33,255.60 170.53,254.13 171.20,253.90C171.87,253.67 172.73,253.97 173.60,255.90C174.47,257.83 175.25,262.32 176.40,265.50C177.55,268.68 179.13,272.28 180.50,275.00C181.87,277.72 183.23,280.20 184.60,281.80C185.97,283.40 187.45,284.48 188.70,284.60C189.95,284.72 190.97,283.87 192.10,282.50C193.23,281.13 194.60,278.22 195.50,276.40C196.40,274.58 196.87,271.38 197.50,271.60C198.13,271.82 198.73,274.80 199.30,277.70C199.87,280.60 200.37,285.28 200.90,289.00C201.43,292.72 201.90,296.27 202.50,300.00C203.10,303.73 203.70,307.08 204.50,311.40C205.30,315.72 206.28,321.78 207.30,325.90C208.32,330.02 209.65,332.53 210.60,336.10C211.55,339.67 212.22,343.58 213.00,347.30C213.78,351.02 214.52,354.70 215.30,358.40C216.08,362.10 217.03,366.05 217.70,369.50C218.37,372.95 218.90,376.57 219.30,379.10C219.70,381.63 219.70,384.30 220.10,384.70C220.50,385.10 221.17,382.97 221.70,381.50C222.23,380.03 222.63,377.63 223.30,375.90C223.97,374.17 224.90,372.42 225.70,371.10C226.50,369.78 227.30,368.65 228.10,368.00C228.90,367.35 229.72,366.68 230.50,367.20C231.28,367.72 232.02,370.18 232.80,371.10C233.58,372.02 234.40,371.90 235.20,372.70C236.00,373.50 236.80,375.90 237.60,375.90C238.40,375.90 239.20,374.15 240.00,372.70C240.80,371.25 242.00,368.12 242.40,367.20" fill="none" stroke="#f05050" stroke-width="1" stroke-linejoin="round" stroke-dasharray="2.2,1.8"/>
<path d="M77.40,322.50C78.35,321.93 81.23,320.17 83.10,319.10C84.97,318.03 86.78,317.12 88.60,316.10C90.42,315.08 92.25,314.40 94.00,313.00C95.75,311.60 96.73,310.10 99.10,307.70C101.47,305.30 105.17,301.93 108.20,298.60C111.23,295.27 114.73,291.48 117.30,287.70C119.87,283.92 121.78,279.68 123.60,275.90C125.42,272.12 126.83,268.48 128.20,265.00C129.57,261.52 130.75,257.42 131.80,255.00C132.85,252.58 133.53,250.35 134.50,250.50C135.47,250.65 136.53,253.78 137.60,255.90C138.67,258.02 139.75,261.08 140.90,263.20C142.05,265.32 142.90,267.20 144.50,268.60C146.10,270.00 148.60,270.87 150.50,271.60C152.40,272.33 154.08,273.23 155.90,273.00C157.72,272.77 159.80,271.45 161.40,270.20C163.00,268.95 164.25,267.43 165.50,265.50C166.75,263.57 167.88,260.65 168.90,258.60C169.92,256.55 170.85,254.33 171.60,253.20C172.35,252.07 172.72,251.35 173.40,251.80C174.08,252.25 174.75,253.73 175.70,255.90C176.65,258.07 177.85,261.85 179.10,264.80C180.35,267.75 181.72,271.22 183.20,273.60C184.68,275.98 186.42,277.77 188.00,279.10C189.58,280.43 191.33,281.72 192.70,281.60C194.07,281.48 195.17,279.95 196.20,278.40C197.23,276.85 198.12,272.42 198.90,272.30C199.68,272.18 200.32,275.58 200.90,277.70C201.48,279.82 201.80,281.82 202.40,285.00C203.00,288.18 203.53,291.80 204.50,296.80C205.47,301.80 207.18,310.30 208.20,315.00C209.22,319.70 209.68,321.22 210.60,325.00C211.52,328.78 212.65,333.45 213.70,337.70C214.75,341.95 215.83,346.65 216.90,350.50C217.97,354.35 219.03,357.88 220.10,360.80C221.17,363.72 222.37,366.15 223.30,368.00C224.23,369.85 224.50,370.45 225.70,371.90C226.90,373.35 228.92,375.10 230.50,376.70C232.08,378.30 233.62,379.92 235.20,381.50C236.78,383.08 238.53,384.88 240.00,386.20C241.47,387.52 242.88,388.73 244.00,389.40C245.12,390.07 245.78,390.47 246.70,390.20C247.62,389.93 248.50,389.12 249.50,387.80C250.50,386.48 251.63,384.28 252.70,382.30C253.77,380.32 254.70,378.28 255.90,375.90C257.10,373.52 258.43,370.78 259.90,368.00C261.37,365.22 263.40,361.28 264.70,359.20C266.00,357.12 265.87,357.72 267.70,355.50C269.53,353.28 272.67,349.98 275.70,345.90C278.73,341.82 282.68,335.47 285.90,331.00C289.12,326.53 291.97,323.05 295.00,319.10C298.03,315.15 301.37,310.93 304.10,307.30C306.83,303.67 309.13,300.63 311.40,297.30C313.67,293.97 315.88,290.18 317.70,287.30C319.52,284.42 320.78,282.07 322.30,280.00C323.82,277.93 325.60,275.87 326.80,274.90C328.00,273.93 328.37,274.27 329.50,274.20C330.63,274.13 332.92,274.45 333.60,274.50" fill="none" stroke="#44e644" stroke-width="1" stroke-linejoin="round"/>
<path d="M383.80,316.10C384.18,316.15 385.03,316.67 386.10,316.40C387.17,316.13 388.85,315.15 390.20,314.50C391.55,313.85 392.85,313.18 394.20,312.50C395.55,311.82 396.77,310.75 398.30,310.40C399.83,310.05 401.87,310.40 403.40,310.40C404.93,310.40 405.95,310.90 407.50,310.40C409.05,309.90 410.98,308.25 412.70,307.40C414.42,306.55 416.10,305.98 417.80,305.30C419.50,304.62 421.20,303.88 422.90,303.30C424.60,302.72 426.30,302.65 428.00,301.80C429.70,300.95 431.40,299.18 433.10,298.20C434.80,297.22 436.55,296.58 438.20,295.90C439.85,295.22 441.48,294.78 443.00,294.10C444.52,293.42 445.22,292.87 447.30,291.80C449.38,290.73 452.77,289.28 455.50,287.70C458.23,286.12 461.20,284.12 463.70,282.30C466.20,280.48 468.58,278.35 470.50,276.80C472.42,275.25 473.88,274.22 475.20,273.00C476.52,271.78 477.30,270.83 478.40,269.50C479.50,268.17 480.67,266.88 481.80,265.00C482.93,263.12 484.15,260.47 485.20,258.20C486.25,255.93 487.25,253.10 488.10,251.40C488.95,249.70 489.68,248.67 490.30,248.00C490.92,247.33 491.22,247.12 491.80,247.40C492.38,247.68 493.00,248.47 493.80,249.70C494.60,250.93 495.57,253.20 496.60,254.80C497.63,256.40 498.68,257.88 500.00,259.30C501.32,260.72 502.98,262.25 504.50,263.30C506.02,264.35 507.58,265.13 509.10,265.60C510.62,266.07 512.08,266.17 513.60,266.10C515.12,266.03 516.68,265.77 518.20,265.20C519.72,264.63 521.38,263.68 522.70,262.70C524.02,261.72 525.05,260.62 526.10,259.30C527.15,257.98 528.05,256.27 529.00,254.80C529.95,253.33 530.90,251.43 531.80,250.50C532.70,249.57 533.57,248.90 534.40,249.20C535.23,249.50 535.83,250.65 536.80,252.30C537.77,253.95 539.07,257.05 540.20,259.10C541.33,261.15 542.35,262.90 543.60,264.60C544.85,266.30 546.33,268.05 547.70,269.30C549.07,270.55 550.43,271.48 551.80,272.10C553.17,272.72 554.65,273.07 555.90,273.00C557.15,272.93 558.27,272.53 559.30,271.70C560.33,270.87 561.30,269.23 562.10,268.00C562.90,266.77 563.58,265.05 564.10,264.30C564.62,263.55 564.78,263.12 565.20,263.50C565.62,263.88 566.10,264.95 566.60,266.60C567.10,268.25 567.60,270.78 568.20,273.40C568.80,276.02 569.55,279.45 570.20,282.30C570.85,285.15 571.45,287.88 572.10,290.50C572.75,293.12 573.23,295.17 574.10,298.00C574.97,300.83 576.23,304.33 577.30,307.50C578.37,310.67 579.58,313.95 580.50,317.00C581.42,320.05 582.02,323.53 582.80,325.80C583.58,328.07 584.40,329.15 585.20,330.60C586.00,332.05 586.93,333.98 587.60,334.50C588.27,335.02 588.67,334.17 589.20,333.70C589.73,333.23 590.18,331.95 590.80,331.70C591.42,331.45 592.28,331.87 592.90,332.20C593.52,332.53 593.92,333.52 594.50,333.70C595.08,333.88 595.82,332.95 596.40,333.30C596.98,333.65 597.42,335.33 598.00,335.80C598.58,336.27 599.32,335.98 599.90,336.10C600.48,336.22 600.98,336.90 601.50,336.50C602.02,336.10 602.48,334.68 603.00,333.70C603.52,332.72 603.98,331.28 604.60,330.60C605.22,329.92 605.88,329.98 606.70,329.60C607.52,329.22 608.58,328.30 609.50,328.30C610.42,328.30 611.38,328.97 612.20,329.60C613.02,330.23 613.55,331.28 614.40,332.10C615.25,332.92 616.48,333.23 617.30,334.50C618.12,335.77 618.62,337.82 619.30,339.70C619.98,341.58 620.72,344.10 621.40,345.80C622.08,347.50 622.90,348.03 623.40,349.90C623.90,351.77 624.13,353.42 624.40,357.00C624.67,360.58 624.82,365.25 625.00,371.40C625.18,377.55 625.32,393.90 625.50,393.90C625.68,393.90 625.87,377.55 626.10,371.40C626.33,365.25 626.60,359.73 626.90,357.00C627.20,354.27 627.53,356.35 627.90,355.00C628.27,353.65 628.65,351.28 629.10,348.90C629.55,346.52 630.02,342.75 630.60,340.70C631.18,338.65 631.92,338.13 632.60,336.60C633.28,335.07 633.85,333.27 634.70,331.50C635.55,329.73 636.73,327.87 637.70,326.00C638.67,324.13 639.53,322.05 640.50,320.30C641.47,318.55 642.50,317.05 643.50,315.50C644.50,313.95 645.50,312.37 646.50,311.00C647.50,309.63 648.23,308.68 649.50,307.30C650.77,305.92 652.73,304.07 654.10,302.70C655.47,301.33 656.33,300.62 657.70,299.10C659.07,297.58 660.63,295.57 662.30,293.60C663.97,291.63 665.88,289.27 667.70,287.30C669.52,285.33 671.53,283.62 673.20,281.80C674.87,279.98 676.18,278.22 677.70,276.40C679.22,274.58 681.53,271.82 682.30,270.90" fill="none" stroke="#4a4aee" stroke-width="1" stroke-linejoin="round"/>
<path d="M420.70,297.50C421.72,297.05 424.65,295.85 426.80,294.80C428.95,293.75 431.32,292.38 433.60,291.20C435.88,290.02 438.22,288.95 440.50,287.70C442.78,286.45 445.03,285.17 447.30,283.70C449.57,282.23 451.83,280.73 454.10,278.90C456.37,277.07 458.85,274.75 460.90,272.70C462.95,270.65 464.80,268.87 466.40,266.60C468.00,264.33 469.37,261.48 470.50,259.10C471.63,256.72 472.37,254.12 473.20,252.30C474.03,250.48 474.87,249.02 475.50,248.20C476.13,247.38 476.33,247.25 477.00,247.40C477.67,247.55 478.70,248.07 479.50,249.10C480.30,250.13 480.85,251.98 481.80,253.60C482.75,255.22 483.87,257.18 485.20,258.80C486.53,260.42 488.28,262.23 489.80,263.30C491.32,264.37 492.78,264.77 494.30,265.20C495.82,265.63 497.38,265.93 498.90,265.90C500.42,265.87 501.88,265.43 503.40,265.00C504.92,264.57 506.48,264.15 508.00,263.30C509.52,262.45 511.08,261.52 512.50,259.90C513.92,258.28 515.33,255.40 516.50,253.60C517.67,251.80 518.75,249.95 519.50,249.10C520.25,248.25 520.37,247.93 521.00,248.50C521.63,249.07 522.45,250.70 523.30,252.50C524.15,254.30 525.07,257.22 526.10,259.30C527.13,261.38 528.28,263.45 529.50,265.00C530.72,266.55 531.95,267.35 533.40,268.60C534.85,269.85 536.60,271.92 538.20,272.50C539.80,273.08 541.52,272.75 543.00,272.10C544.48,271.45 545.97,269.75 547.10,268.60C548.23,267.45 549.05,266.10 549.80,265.20C550.55,264.30 551.03,262.85 551.60,263.20C552.17,263.55 552.70,265.25 553.20,267.30C553.70,269.35 554.10,272.55 554.60,275.50C555.10,278.45 555.63,282.05 556.20,285.00C556.77,287.95 557.32,290.53 558.00,293.20C558.68,295.87 559.22,298.08 560.30,301.00C561.38,303.92 563.27,307.50 564.50,310.70C565.73,313.90 566.63,317.28 567.70,320.20C568.77,323.12 569.83,325.95 570.90,328.20C571.97,330.45 573.30,332.52 574.10,333.70C574.90,334.88 575.03,335.42 575.70,335.30C576.37,335.18 577.18,333.38 578.10,333.00C579.02,332.62 580.28,332.75 581.20,333.00C582.12,333.25 582.67,333.85 583.60,334.50C584.53,335.15 586.00,336.90 586.80,336.90C587.60,336.90 587.87,335.55 588.40,334.50C588.93,333.45 589.73,331.25 590.00,330.60" fill="none" stroke="#f05050" stroke-width="1" stroke-linejoin="round" stroke-dasharray="2.2,1.8"/>
<path d="M426.10,292.50C427.35,291.93 431.20,290.23 433.60,289.10C436.00,287.97 438.22,286.95 440.50,285.70C442.78,284.45 445.03,283.08 447.30,281.60C449.57,280.12 451.83,278.50 454.10,276.80C456.37,275.10 458.85,273.33 460.90,271.40C462.95,269.47 464.80,267.25 466.40,265.20C468.00,263.15 469.37,261.03 470.50,259.10C471.63,257.17 472.30,255.20 473.20,253.60C474.10,252.00 475.10,250.60 475.90,249.50C476.70,248.40 477.35,247.53 478.00,247.00C478.65,246.47 479.07,246.05 479.80,246.30C480.53,246.55 481.50,247.57 482.40,248.50C483.30,249.43 484.17,250.77 485.20,251.90C486.23,253.03 487.27,254.25 488.60,255.30C489.93,256.35 491.48,257.38 493.20,258.20C494.92,259.02 497.02,259.82 498.90,260.20C500.78,260.58 502.62,260.65 504.50,260.50C506.38,260.35 508.48,260.07 510.20,259.30C511.92,258.53 513.37,257.32 514.80,255.90C516.23,254.48 517.70,252.08 518.80,250.80C519.90,249.52 520.55,248.10 521.40,248.20C522.25,248.30 522.92,249.93 523.90,251.40C524.88,252.87 526.17,255.20 527.30,257.00C528.43,258.80 529.42,260.77 530.70,262.20C531.98,263.63 533.87,264.63 535.00,265.60C536.13,266.57 536.28,267.27 537.50,268.00C538.72,268.73 540.82,269.67 542.30,270.00C543.78,270.33 545.15,270.45 546.40,270.00C547.65,269.55 548.78,268.20 549.80,267.30C550.82,266.40 551.82,265.23 552.50,264.60C553.18,263.97 553.45,263.28 553.90,263.50C554.35,263.72 554.63,264.13 555.20,265.90C555.77,267.67 556.62,271.13 557.30,274.10C557.98,277.07 558.62,280.75 559.30,283.70C559.98,286.65 560.58,289.08 561.40,291.80C562.22,294.52 563.02,296.85 564.20,300.00C565.38,303.15 567.12,307.20 568.50,310.70C569.88,314.20 571.17,317.82 572.50,321.00C573.83,324.18 575.17,327.55 576.50,329.80C577.83,332.05 579.05,333.18 580.50,334.50C581.95,335.82 583.75,336.63 585.20,337.70C586.65,338.77 587.87,339.70 589.20,340.90C590.53,342.10 592.07,343.78 593.20,344.90C594.33,346.02 595.08,347.73 596.00,347.60C596.92,347.47 597.72,345.75 598.70,344.10C599.68,342.45 600.70,339.95 601.90,337.70C603.10,335.45 604.43,332.85 605.90,330.60C607.37,328.35 609.18,326.12 610.70,324.20C612.22,322.28 612.77,321.32 615.00,319.10C617.23,316.88 621.07,313.48 624.10,310.90C627.13,308.32 630.17,306.17 633.20,303.60C636.23,301.03 639.27,298.07 642.30,295.50C645.33,292.93 648.68,290.63 651.40,288.20C654.12,285.77 656.18,283.48 658.60,280.90C661.02,278.32 663.77,275.12 665.90,272.70C668.03,270.28 669.73,268.07 671.40,266.40C673.07,264.73 674.55,263.37 675.90,262.70C677.25,262.03 678.43,262.45 679.50,262.40C680.57,262.35 681.83,262.40 682.30,262.40" fill="none" stroke="#44e644" stroke-width="1" stroke-linejoin="round"/>
<rect x="51.5" y="137.5" width="73.0" height="33.0" fill="#fff" stroke="#d6d6d6" stroke-width="1"/>
<line x1="53.0" y1="143.3" x2="61.0" y2="143.3" stroke="#4a4aee" stroke-width="1.1"/>
<text x="61.8" y="146.5" font-family='"Liberation Serif", serif' font-size="9.6" fill="#000" stroke="#000" stroke-width="0.2">Meas. raw</text>
<line x1="53.0" y1="154.3" x2="61.0" y2="154.3" stroke="#f05050" stroke-width="1.1" stroke-dasharray="2.4,1.8"/>
<text x="61.8" y="157.5" font-family='"Liberation Serif", serif' font-size="9.6" fill="#000" stroke="#000" stroke-width="0.2">Meas. corrected</text>
<line x1="53.0" y1="165.3" x2="61.0" y2="165.3" stroke="#44e644" stroke-width="1.1"/>
<text x="61.8" y="168.5" font-family='"Liberation Serif", serif' font-size="9.6" fill="#000" stroke="#000" stroke-width="0.2">Simulation set</text>
<rect x="400.5" y="134.5" width="73.0" height="34.0" fill="#fff" stroke="#d6d6d6" stroke-width="1"/>
<line x1="402.0" y1="140.3" x2="410.0" y2="140.3" stroke="#4a4aee" stroke-width="1.1"/>
<text x="410.8" y="143.5" font-family='"Liberation Serif", serif' font-size="9.6" fill="#000" stroke="#000" stroke-width="0.2">Meas. raw</text>
<line x1="402.0" y1="151.3" x2="410.0" y2="151.3" stroke="#f05050" stroke-width="1.1" stroke-dasharray="2.4,1.8"/>
<text x="410.8" y="154.5" font-family='"Liberation Serif", serif' font-size="9.6" fill="#000" stroke="#000" stroke-width="0.2">Meas. corrected</text>
<line x1="402.0" y1="162.3" x2="410.0" y2="162.3" stroke="#44e644" stroke-width="1.1"/>
<text x="410.8" y="165.5" font-family='"Liberation Serif", serif' font-size="9.6" fill="#000" stroke="#000" stroke-width="0.2">Simulation set</text>
<rect x="50.5" y="366.5" width="73.0" height="34.0" fill="#fff" stroke="#d6d6d6" stroke-width="1"/>
<line x1="52.0" y1="372.3" x2="60.0" y2="372.3" stroke="#4a4aee" stroke-width="1.1"/>
<text x="60.8" y="375.5" font-family='"Liberation Serif", serif' font-size="9.6" fill="#000" stroke="#000" stroke-width="0.2">Meas. raw</text>
<line x1="52.0" y1="383.3" x2="60.0" y2="383.3" stroke="#f05050" stroke-width="1.1" stroke-dasharray="2.4,1.8"/>
<text x="60.8" y="386.5" font-family='"Liberation Serif", serif' font-size="9.6" fill="#000" stroke="#000" stroke-width="0.2">Meas. corrected</text>
<line x1="52.0" y1="394.3" x2="60.0" y2="394.3" stroke="#44e644" stroke-width="1.1"/>
<text x="60.8" y="397.5" font-family='"Liberation Serif", serif' font-size="9.6" fill="#000" stroke="#000" stroke-width="0.2">Simulation set</text>
<rect x="394.5" y="369.5" width="73.0" height="34.0" fill="#fff" stroke="#d6d6d6" stroke-width="1"/>
<line x1="396.0" y1="375.3" x2="404.0" y2="375.3" stroke="#4a4aee" stroke-width="1.1"/>
<text x="404.8" y="378.5" font-family='"Liberation Serif", serif' font-size="9.6" fill="#000" stroke="#000" stroke-width="0.2">Meas. raw</text>
<line x1="396.0" y1="386.3" x2="404.0" y2="386.3" stroke="#f05050" stroke-width="1.1" stroke-dasharray="2.4,1.8"/>
<text x="404.8" y="389.5" font-family='"Liberation Serif", serif' font-size="9.6" fill="#000" stroke="#000" stroke-width="0.2">Meas. corrected</text>
<line x1="396.0" y1="397.3" x2="404.0" y2="397.3" stroke="#44e644" stroke-width="1.1"/>
<text x="404.8" y="400.5" font-family='"Liberation Serif", serif' font-size="9.6" fill="#000" stroke="#000" stroke-width="0.2">Simulation set</text>
</svg></body></html>
